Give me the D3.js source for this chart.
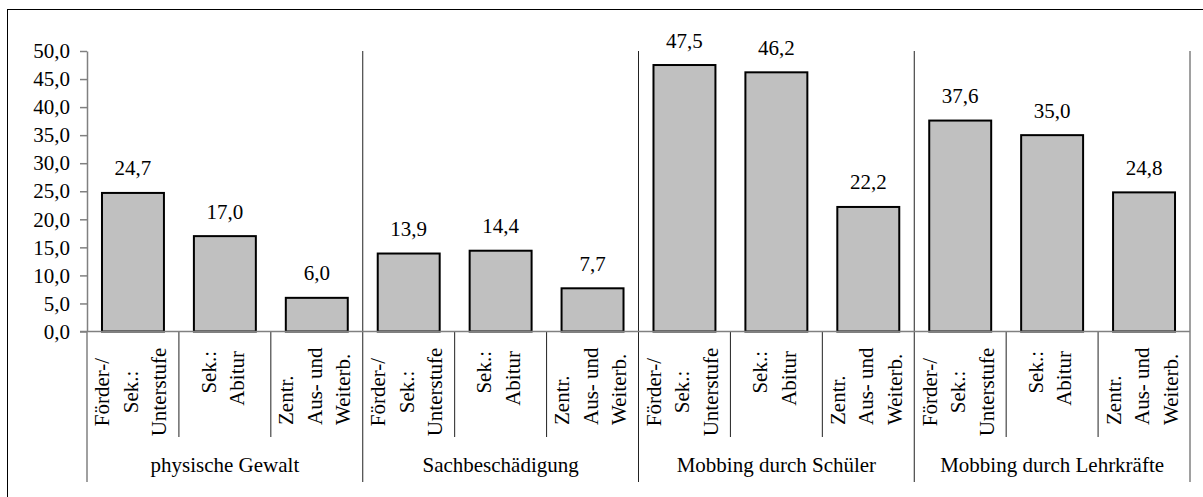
<!DOCTYPE html>
<html>
<head>
<meta charset="utf-8">
<script src="https://cdn.jsdelivr.net/npm/d3@7"></script>
<style>
  body { margin: 0; background: #fff; }
</style>
</head>
<body>
<svg id="chart" width="1203" height="497" font-family="serif"></svg>
<script>
// data
const groups = ['physische Gewalt', 'Sachbeschädigung', 'Mobbing durch Schüler', 'Mobbing durch Lehrkräfte'];
const subLabels = [
  ['Förder-/', 'Sek.:', 'Unterstufe'],
  ['Sek.:', 'Abitur'],
  ['Zentr.', 'Aus- und', 'Weiterb.']
];
const values = [24.7, 17.0, 6.0, 13.9, 14.4, 7.7, 47.5, 46.2, 22.2, 37.6, 35.0, 24.8];
const yTicks = [0, 5, 10, 15, 20, 25, 30, 35, 40, 45, 50];

const svg = d3.select('#chart');
const plotLeft = 87, plotRight = 1190, plotTop = 51, zero = 331.5;

// serif face set on each text
const serif = sel => sel
  .attr('font-family', 'serif')
  .attr('font-size', 21)
  .attr('fill', '#000');

const de = d3.formatLocale({ decimal: ',', thousands: '.', grouping: [3], currency: ['', ' €'] });
const fmt = de.format('.1f');

// one band per bar, groups of three
const cats = values.map((v, i) => i);
const x = d3.scaleBand().domain(cats).range([plotLeft, plotRight]).paddingInner(0.326).paddingOuter(0.163);
const gx = d3.scaleBand().domain(groups).range([plotLeft, plotRight]);
const y = d3.scaleLinear().domain([0, 50]).range([zero, plotTop]);

// outer frame
svg.append('rect')
  .attr('x', 7.5).attr('y', 9.5)
  .attr('width', 1210).attr('height', 500)
  .attr('fill', 'none').attr('stroke', '#000');

// y axis, drawn by hand-free d3 axis then restyled
const yAxis = svg.append('g')
  .attr('transform', `translate(${plotLeft},0)`)
  .call(d3.axisLeft(y).tickValues(yTicks).tickFormat(fmt).tickSize(7).tickSizeOuter(0));
yAxis.attr('font-family', 'serif').attr('font-size', 21);
yAxis.select('.domain').attr('stroke', '#808080').attr('stroke-width', 1.5);
yAxis.selectAll('.tick line').attr('stroke', '#808080').attr('stroke-width', 1.5);
yAxis.selectAll('.tick text')
  .call(serif)
  .attr('x', -17)
  .attr('dy', '0.32em');

// group separators (full height) and category separators (below axis)
svg.append('g').selectAll('line')
  .data(groups)
  .join('line')
  .attr('x1', d => gx(d) + gx.bandwidth())
  .attr('x2', d => gx(d) + gx.bandwidth())
  .attr('y1', plotTop).attr('y2', 482)
  .attr('stroke', (d, i) => i === groups.length - 1 ? '#808080' : '#222')
  .attr('stroke-width', (d, i) => i === groups.length - 1 ? 1.5 : 1);

svg.append('line')
  .attr('x1', plotLeft).attr('x2', plotLeft)
  .attr('y1', zero).attr('y2', 482)
  .attr('stroke', '#808080').attr('stroke-width', 1.5);

svg.append('g').selectAll('line')
  .data(cats.filter(i => i % 3 !== 0))
  .join('line')
  .attr('x1', i => x(i) - x.step() * x.paddingInner() / 2)
  .attr('x2', i => x(i) - x.step() * x.paddingInner() / 2)
  .attr('y1', zero).attr('y2', 437)
  .attr('stroke', '#222').attr('stroke-width', 1);

// bars
svg.append('g').selectAll('rect')
  .data(values)
  .join('rect')
  .attr('x', (d, i) => x(i))
  .attr('y', d => y(d))
  .attr('width', x.bandwidth())
  .attr('height', d => zero - y(d))
  .attr('fill', '#c0c0c0')
  .attr('stroke', '#000')
  .attr('stroke-width', 2);

// x axis line at zero
svg.append('line')
  .attr('x1', plotLeft - 7).attr('x2', plotRight)
  .attr('y1', zero).attr('y2', zero)
  .attr('stroke', '#808080').attr('stroke-width', 1.5);

// value labels
svg.append('g').selectAll('text')
  .data(values)
  .join('text')
  .call(serif)
  .attr('x', (d, i) => x(i) + x.bandwidth() / 2)
  .attr('y', d => y(d) - 17.5)
  .attr('text-anchor', 'middle')
  .text(d => fmt(d));

// rotated category labels, each kind aligned as in the original
const anchorOf = k => ['middle', 'end', 'start'][k];
const posOf = k => [392, 351, 425][k];
const lineGap = 28.5;

const catLabel = svg.append('g').selectAll('g')
  .data(cats)
  .join('g')
  .attr('transform', i => `translate(${x(i) + x.bandwidth() / 2},${posOf(i % 3)}) rotate(-90)`);

catLabel.each(function (i) {
  const lines = subLabels[i % 3];
  d3.select(this).selectAll('text')
    .data(lines)
    .join('text')
    .call(serif)
    .attr('x', 0)
    .attr('y', (d, j) => (j - (lines.length - 1) / 2) * lineGap + 5)
    .attr('text-anchor', anchorOf(i % 3))
    .text(d => d);
});

// group labels
svg.append('g').selectAll('text')
  .data(groups)
  .join('text')
  .call(serif)
  .attr('x', d => gx(d) + gx.bandwidth() / 2)
  .attr('y', 472)
  .attr('text-anchor', 'middle')
  .text(d => d);
</script>
</body>
</html>
